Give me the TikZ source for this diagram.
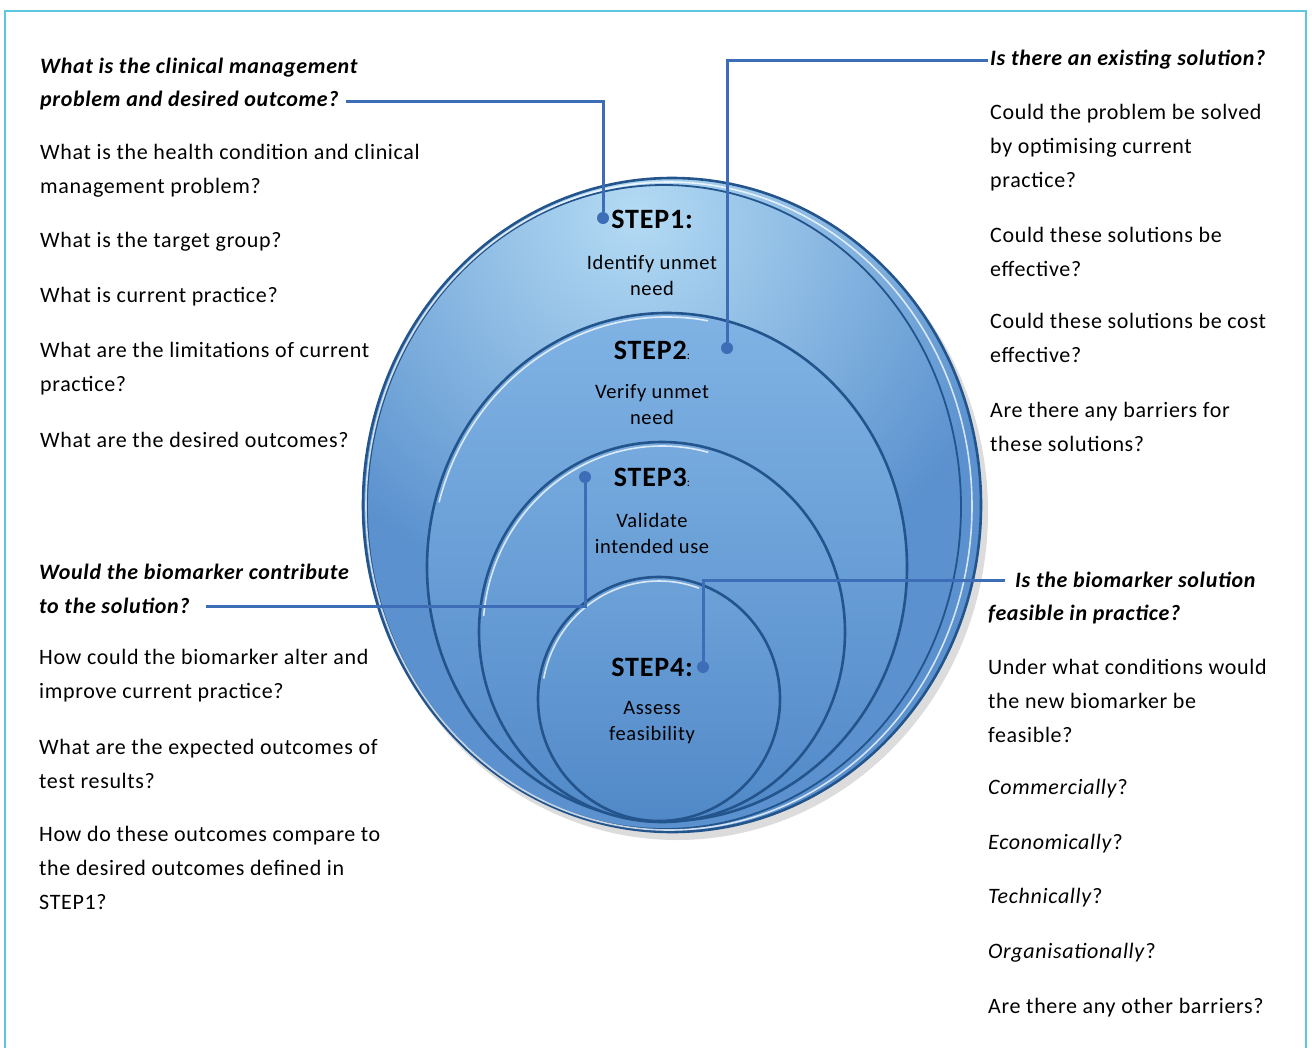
\documentclass[tikz,border=0pt]{standalone}
\usepackage{fontspec}
\setmainfont{Carlito}[LetterSpace=3]
\usetikzlibrary{calc}

\definecolor{framecyan}{HTML}{5CC6DF}
\definecolor{linkblue}{HTML}{3E6DB7}
\definecolor{rimblue}{HTML}{23548C}
\definecolor{discA}{HTML}{B4DBF4}
\definecolor{discB}{HTML}{5A91CE}
\definecolor{discC}{HTML}{80B3E4}
\definecolor{discD}{HTML}{5189C8}

\tikzset{
	txt/.style={font=\fontsize{22}{34}\selectfont, align=left, anchor=west, inner sep=0pt},
	head/.style={txt, font=\fontsize{22}{34}\selectfont\bfseries\itshape},
	steptitle/.style={font=\fontsize{28}{30}\selectfont\bfseries, inner sep=0pt},
	steptext/.style={font=\fontsize{20.5}{26}\selectfont, align=center, inner sep=0pt},
	rim/.style={draw=rimblue, line width=2.6pt},
	glint/.style={white, opacity=0.75, line width=1.6pt},
	link/.style={linkblue, line width=3pt},
	dot/.style={circle, fill=linkblue, inner sep=0pt, minimum size=12pt}
}

\begin{document}
\begin{tikzpicture}[x=1pt, y=-1pt]

	\useasboundingbox (0,0) rectangle (1312,1047);
	\draw[framecyan, line width=2.5pt] (5,11) rectangle (1306,1090);

	% shadow and outer disc
	\fill[black!30, opacity=0.45] (677,512) ellipse (311 and 328);
	\fill[discB] (672,505) ellipse (309 and 327);
	\begin{scope}
		\clip (672,505) ellipse (309 and 327);
		\shade[inner color=discA, outer color=discB] (635,215) circle (400);
	\end{scope}
	\draw[rim] (672,505) ellipse (309 and 327);
	\draw[rimblue, line width=1.8pt] (664,507) ellipse (297 and 322);
	\draw[glint] (669,506) ellipse (303 and 324);

	% step 2 disc
	\shade[top color=discC, bottom color=discD] (667,567) ellipse (240 and 254);
	\draw[rim] (667,567) ellipse (240 and 254);
	\draw[glint] (667,567) ++(195:236 and 250) arc[start angle=195, end angle=280, x radius=236, y radius=250];

	% step 3 disc
	\shade[top color=discC!80!discD, bottom color=discD] (662,632) ellipse (183 and 190);
	\draw[rim] (662,632) ellipse (183 and 190);
	\draw[glint] (662,632) ++(185:179 and 186) arc[start angle=185, end angle=285, x radius=179, y radius=186];

	% step 4 disc
	\shade[top color=discC!60!discD, bottom color=discD] (659,699) ellipse (121 and 122);
	\draw[rim] (659,699) ellipse (121 and 122);
	\draw[glint] (659,699) ++(190:117 and 118) arc[start angle=190, end angle=290, x radius=117, y radius=118];

	% step labels
	\node[steptitle] (s1) at (652,219) {STEP1:};
	\node[steptext] (s1t) at (652,275) {Identify unmet\\need};
	\node[steptitle] (s2) at (652,350) {STEP2{\mdseries\fontsize{12}{12}\selectfont:}};
	\node[steptext] (s2t) at (652,405) {Verify unmet\\need};
	\node[steptitle] (s3) at (652,477) {STEP3{\mdseries\fontsize{12}{12}\selectfont:}};
	\node[steptext] (s3t) at (652,533) {Validate\\intended use};
	\node[steptitle] (s4) at (652,667) {STEP4:};
	\node[steptext] (s4t) at (652,723) {Assess\\feasibility};

	% left questions
	\node[head] (h1a) at (40,68) {What is the clinical management};
	\node[head] (h1b) at (40,101) {problem and desired outcome?};
	\node[txt] (l1) at (40,171) {What is the health condition and clinical\\management problem?};
	\node[txt] (l2) at (40,242) {What is the target group?};
	\node[txt] (l3) at (40,297) {What is current practice?};
	\node[txt] (l4) at (40,369) {What are the limitations of current\\practice?};
	\node[txt] (l5) at (40,440) {What are the desired outcomes?};

	\node[head] (h3a) at (39,572) {Would the biomarker contribute};
	\node[head] (h3b) at (39,606) {to the solution?};
	\node[txt] (l6) at (39,676) {How could the biomarker alter and\\improve current practice?};
	\node[txt] (l7) at (39,764) {What are the expected outcomes of\\test results?};
	\node[txt] (l8) at (39,868) {How do these outcomes compare to\\the desired outcomes defined in\\STEP1?};

	% right questions
	\node[head] (h2) at (990,60) {Is there an existing solution?};
	\node[txt] (r1) at (990,148) {Could the problem be solved\\by optimising current\\practice?};
	\node[txt] (r2) at (990,252) {Could these solutions be\\effective?};
	\node[txt] (r3) at (990,338) {Could these solutions be cost\\effective?};
	\node[txt] (r4) at (990,427) {Are there any barriers for\\these solutions?};

	\node[head] (h4a) at (1015,580) {Is the biomarker solution};
	\node[head] (h4b) at (988,614) {feasible in practice?};
	\node[txt] (r5) at (988,701) {Under what conditions would\\the new biomarker be\\feasible?};
	\node[txt] (r6) at (988,789) {\textit{Commercially}?};
	\node[txt] (r7) at (988,844) {\textit{Economically}?};
	\node[txt] (r8) at (988,898) {\textit{Technically}?};
	\node[txt] (r9) at (988,953) {\textit{Organisationally}?};
	\node[txt] (r10) at (988,1008) {Are there any other barriers?};

	% connectors
	\node[dot] (d1) at (603,218) {};
	\node[dot] (d2) at (727,348) {};
	\node[dot] (d3) at (585,477) {};
	\node[dot] (d4) at (703,667) {};

	\draw[link] ([xshift=7pt]h1b.east) -| (d1);
	\draw[link] ([xshift=-2pt]h2.west) -| (d2);
	\draw[link] ([xshift=16pt]h3b.east) -| (d3);
	\draw[link] ([xshift=-10pt]h4a.west) -| (d4);

\end{tikzpicture}
\end{document}
